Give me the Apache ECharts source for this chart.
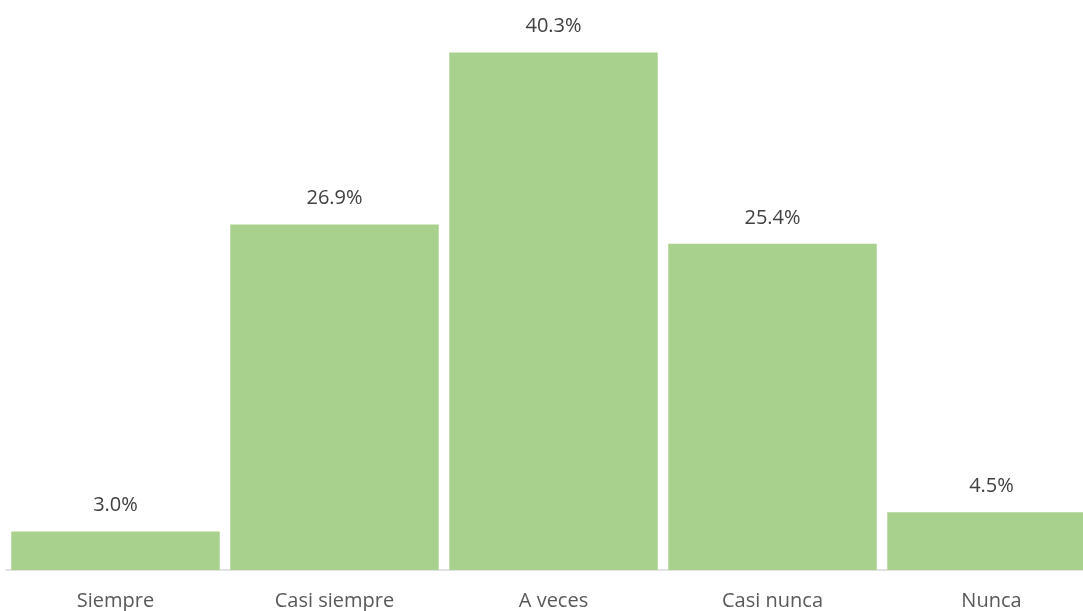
<!DOCTYPE html>
<html>
<head>
<meta charset="utf-8">
<script src="https://cdn.jsdelivr.net/npm/echarts@6/dist/echarts.min.js"></script>
<style>
  html, body { margin: 0; padding: 0; background: #ffffff; overflow: hidden; }
  /* the canvas runs a little past the right edge of the page, so the last bar is clipped */
  #chart { width: 1101px; height: 611px; }
</style>
</head>
<body>
<div id="chart"></div>
<script>
// Frequency categories and their share of responses (%)
const categories = ['Siempre', 'Casi siempre', 'A veces', 'Casi nunca', 'Nunca'];
const percentages = [3.0, 26.9, 40.3, 25.4, 4.5];

const valueColor = '#404040';
const categoryColor = '#595959';
const fontFamily = '"Open Sans", "Noto Sans", sans-serif';

const chart = echarts.init(document.getElementById('chart'), null, { renderer: 'canvas' });

chart.setOption({
  animation: false,
  backgroundColor: '#ffffff',
  grid: { left: 6, right: 0, top: 5, bottom: 41, containLabel: false },
  xAxis: {
    type: 'category',
    data: categories,
    axisLine: { show: true, lineStyle: { color: '#d9d9d9', width: 1.5 } },
    axisTick: { show: false },
    axisLabel: { color: categoryColor, fontSize: 20, fontFamily: fontFamily, margin: 21, interval: 0 }
  },
  yAxis: {
    type: 'value',
    min: 0,
    max: 44,
    show: false,
    splitLine: { show: false }
  },
  series: [{
    type: 'bar',
    data: percentages,
    barCategoryGap: '4.8%',
    itemStyle: { color: '#a9d18e' },
    label: {
      show: true,
      position: 'top',
      distance: 16,
      color: valueColor,
      fontSize: 20,
      fontFamily: fontFamily,
      formatter: p => p.value.toFixed(1) + '%'
    }
  }]
});
</script>
</body>
</html>
